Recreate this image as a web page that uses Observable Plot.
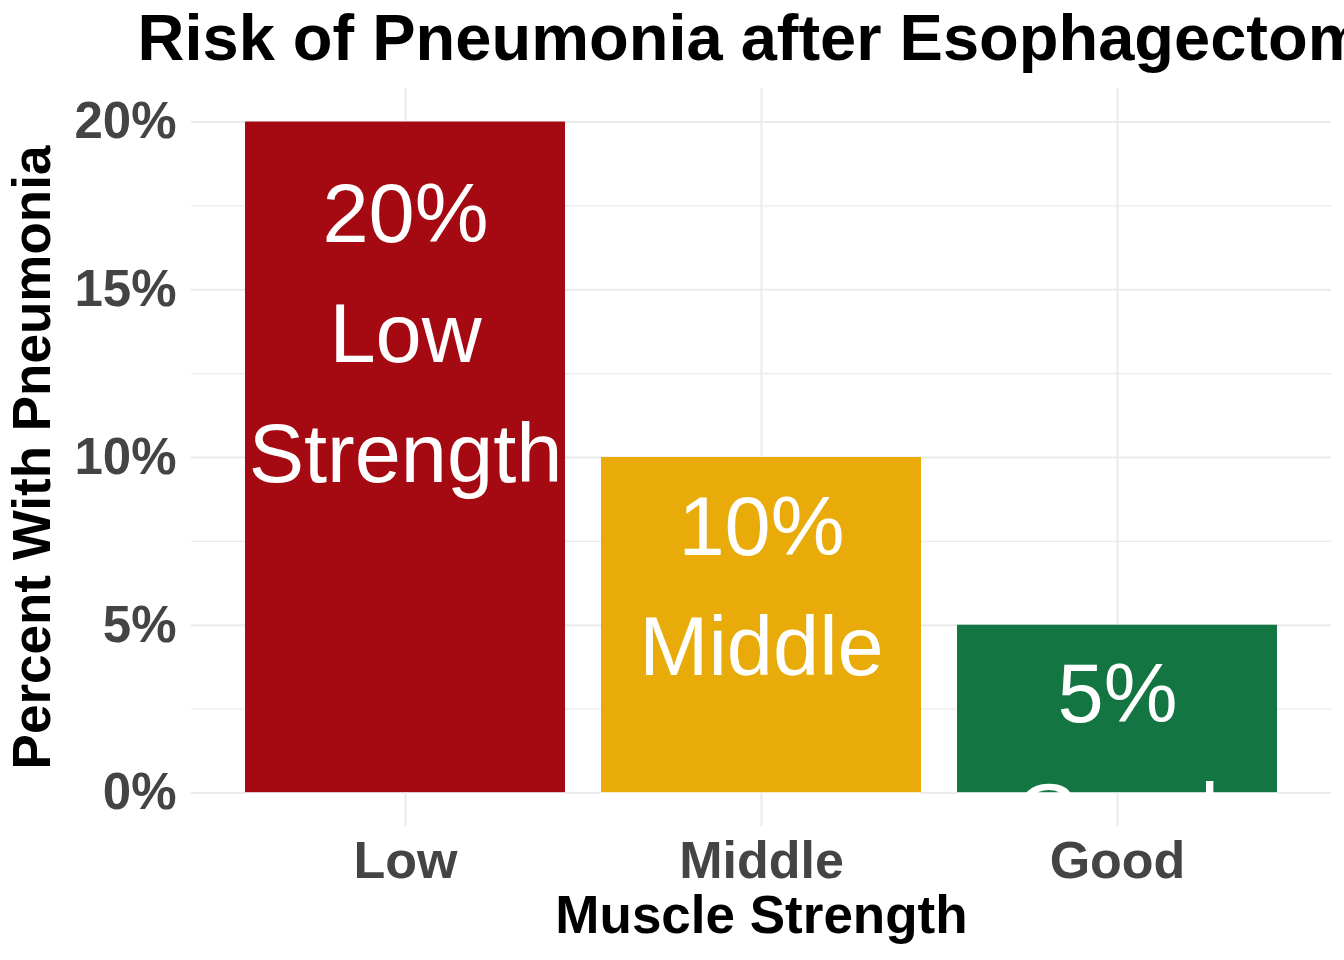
<!DOCTYPE html>
<html>
<head>
<meta charset="utf-8">
<script src="https://cdn.jsdelivr.net/npm/d3@7"></script>
<script src="https://cdn.jsdelivr.net/npm/@observablehq/plot@0.6"></script>
<style>
  html, body { margin: 0; padding: 0; background: white; overflow: hidden; }
  #chart svg { overflow: hidden; display: block; }
</style>
</head>
<body>
<div id="chart"></div>
<script>
const categories = ["Low", "Middle", "Good"];
const percents = [20, 10, 5];
const labelNames = ["Low\nStrength", "Middle", "Good"];
const barColors = ["#A50A13", "#E8AB09", "#127542"];
const yTicks = [0, 5, 10, 15, 20];
const yMinorTicks = [2.5, 7.5, 12.5, 17.5];
const titleText = "Risk of Pneumonia after Esophagectomy";
const xTitle = "Muscle Strength";
const yTitle = "Percent With Pneumonia";

const data = categories.map((c, i) => ({
  cat: c,
  value: percents[i],
  label: percents[i] + "%\n" + labelNames[i]
}));

const FONT = "Liberation Sans, Arial, Helvetica, sans-serif";
const GRID = "#EBEBEB";

const labelMarks = data.map(d => {
  const n = d.label.split("\n").length;
  return Plot.text([d], {
    x: "cat", y: "value", text: "label",
    fill: "white", fontSize: 83, fontFamily: FONT,
    lineAnchor: "top", lineHeight: 1.446, textAnchor: "middle",
    dy: 23 * n - 34
  });
});

const chart = Plot.plot({
  width: 1344,
  height: 960,
  marginLeft: 191,
  marginRight: 13,
  marginTop: 88,
  marginBottom: 134,
  style: {fontFamily: FONT, background: "white", overflow: "hidden"},
  x: {type: "band", domain: categories, paddingInner: 0.1, paddingOuter: 0.15, label: null},
  y: {domain: [-1, 21], label: null},
  color: {domain: categories, range: barColors},
  marks: [
    Plot.ruleY(yMinorTicks, {stroke: GRID, strokeWidth: 1.1}),
    Plot.ruleY(yTicks, {stroke: GRID, strokeWidth: 2.1}),
    Plot.ruleX(categories, {x: d => d, y1: -1, y2: 21, stroke: GRID, strokeWidth: 2.1}),
    Plot.barY(data, {x: "cat", y: "value", fill: "cat"}),
    ...labelMarks,
    Plot.barY(data, {x: "cat", y1: -1, y2: 0, fill: "white"}),
    Plot.ruleX(categories, {x: d => d, y1: -1, y2: 0, stroke: GRID, strokeWidth: 2.1}),
    Plot.axisY({ticks: yTicks, tickFormat: d => d + "%", tickSize: 0, tickPadding: 15,
      fontSize: 51, fontWeight: "bold", color: "#444", label: null, fontFamily: FONT}),
    Plot.axisX({tickSize: 0, tickPadding: 15, fontSize: 52, fontWeight: "bold",
      color: "#444", label: null, fontFamily: FONT}),
    Plot.text([xTitle], {frameAnchor: "bottom", text: d => d, dy: 90, lineAnchor: "middle",
      textAnchor: "middle", fontSize: 53, fontWeight: "bold", fill: "black", fontFamily: FONT}),
    Plot.text([yTitle], {frameAnchor: "left", text: d => d, dx: -158, rotate: -90,
      lineAnchor: "middle", textAnchor: "middle", fontSize: 53, fontWeight: "bold",
      fill: "black", fontFamily: FONT}),
    Plot.text([titleText], {frameAnchor: "top-left", text: d => d, dx: -54, dy: -49,
      lineAnchor: "middle", textAnchor: "start", fontSize: 65, fontWeight: "bold",
      fill: "black", fontFamily: FONT})
  ]
});
document.getElementById("chart").appendChild(chart);
</script>
</body>
</html>
